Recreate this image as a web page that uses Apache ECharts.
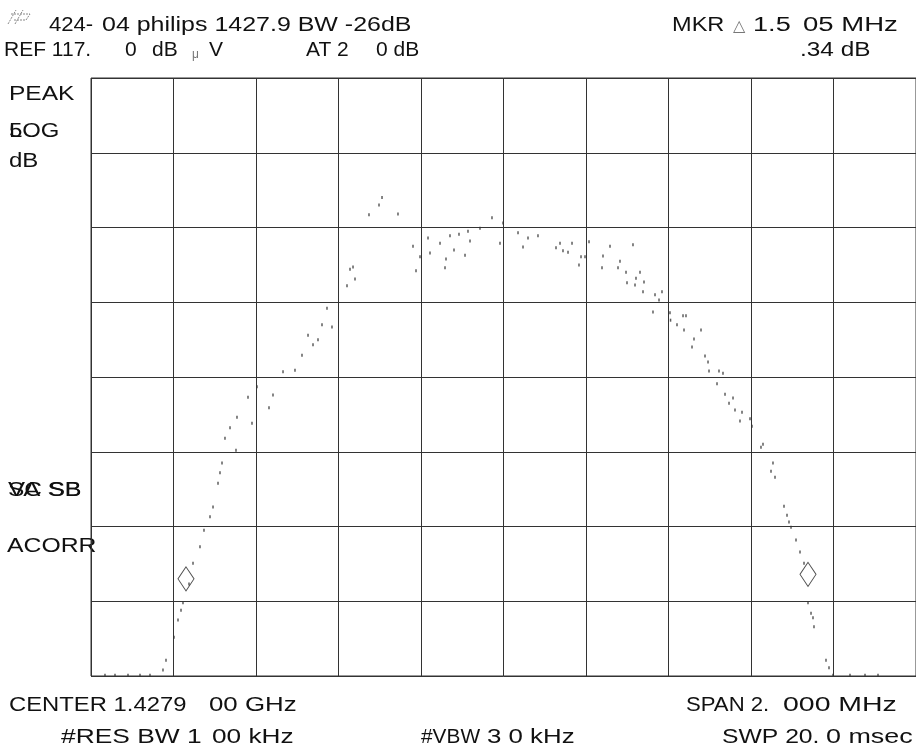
<!DOCTYPE html>
<html>
<head>
<meta charset="utf-8">
<script src="https://cdn.jsdelivr.net/npm/echarts@6/dist/echarts.min.js"></script>
<style>
html,body{margin:0;padding:0;background:#fff;}
#chart{width:916px;height:750px;}
</style>
</head>
<body>
<div id="chart"></div>
<script>
// ---- data ----
const REF_LEVEL_DB = 117;          // top graticule line
const DB_PER_DIV = 10;
const SPAN_KHZ = 2000;             // 2 MHz span, centre 1427.9 MHz
const freqOffsetKHz = [
  -966.1,-941.8,-910.3,-881.2,-857.0,-825.5,-818.2,-798.8,-789.1,-781.8,
  -777.0,-762.4,-752.7,-735.8,-726.1,-711.5,-704.2,-692.1,-687.3,-682.4,
  -675.2,-663.0,-648.5,-646.1,-619.4,-609.7,-597.6,-568.5,-558.8,-534.5,
  -505.5,-488.5,-473.9,-461.8,-449.7,-440.0,-427.9,-415.8,-379.4,-372.1,
  -364.8,-360.0,-326.1,-301.8,-294.5,-255.8,-219.4,-212.1,-202.4,-183.0,
  -178.2,-153.9,-141.8,-139.4,-129.7,-120.0,-107.9,-93.3,-86.1,-81.2,
  -57.0,-27.9,-8.5,-1.2,35.2,47.3,59.4,83.6,127.3,137.0,
  144.2,156.4,166.1,183.0,187.9,197.6,207.3,238.8,241.2,258.2,
  277.6,282.4,297.0,299.4,313.9,318.8,321.2,330.9,338.2,340.6,
  362.4,367.3,377.0,384.2,403.6,405.0,420.6,435.2,437.6,442.4,
  457.0,461.8,478.8,488.5,495.8,498.2,517.6,522.4,532.1,537.0,
  546.7,556.4,561.2,573.3,578.2,597.6,602.4,624.2,629.1,648.5,
  653.3,658.2,680.0,687.3,692.1,697.0,709.1,718.8,728.5,738.2,
  745.5,750.3,752.7,781.8,789.1,798.8,840.0,876.4,907.9
];
const levelDb = [
  37.1,37.1,37.1,37.1,37.1,37.8,39.1,42.2,44.5,45.8,
  46.8,49.3,52.1,54.3,56.5,58.3,59.6,62.8,64.2,65.5,
  68.8,70.2,67.2,71.6,74.3,70.8,75.7,72.9,74.6,77.7,
  77.9,79.9,82.6,81.3,82.0,84.0,86.2,83.7,89.2,91.4,
  91.7,90.1,98.7,100.0,101.0,98.8,94.5,91.2,93.1,95.6,
  93.6,94.9,91.6,92.8,95.9,94.0,96.1,93.3,96.5,95.2,
  96.9,98.3,94.9,97.6,96.3,94.4,95.6,95.9,94.3,94.9,
  93.9,93.7,94.9,92.0,93.1,93.1,95.1,91.6,93.2,94.5,
  91.6,92.5,91.0,89.6,94.7,89.3,90.2,91.0,88.4,89.7,
  85.7,88.0,87.3,88.4,85.6,84.6,84.0,85.2,83.3,85.2,
  81.0,82.1,83.3,79.8,79.0,77.8,76.1,77.8,77.5,74.7,
  73.5,74.2,72.6,71.1,72.3,71.4,70.4,67.6,68.0,64.4,
  65.5,63.6,59.7,58.5,57.6,56.9,55.2,53.6,52.1,46.8,
  45.4,44.8,43.6,39.1,38.1,37.1,37.1,37.1,37.1
];
const markerFreqKHz = [-769.7, 738.2];
const markerLevelDb = [50.0, 50.6];

// ---- text labels: [text, left x, right x (or null = natural width), centre y, font px] ----
const headerTexts = [
  ['424-', 50, 92, 25],
  ['04 philips 1427.9 BW -26dB', 103, 410, 25],
  ['REF 117.', 5, null, 50, 21],
  ['0', 126, null, 50, 21],
  ['dB', 153, null, 50, 21],
  ['V', 210, null, 50, 21],
  ['AT 2', 307, null, 50, 21],
  ['0 dB', 377, null, 50, 21],
  ['MKR', 673, 723, 25],
  ['1.5', 754, 789, 25],
  ['05 MHz', 804, 896, 25],
  ['.34 dB', 801, 869, 50]
];
const sideTexts = [
  ['PEAK', 10, 73, 94],
  ['LOG', 10, 58, 131],
  ['5', 10, 21, 131],
  ['dB', 10, 37, 161],
  ['VA SB', 9, 80, 490],
  ['SC SB', 9, 80, 490],
  ['ACORR', 8, 95, 546]
];
const footerTexts = [
  ['CENTER 1.4279', 10, 185, 705],
  ['00 GHz', 210, 295, 705],
  ['SPAN 2.', 687, 768, 705],
  ['000 MHz', 784, 895, 705],
  ['#RES BW 1', 62, 200, 737],
  ['00 kHz', 213, 292, 737],
  ['#VBW', 422, 479, 737],
  ['3 0 kHz', 488, 573, 737],
  ['SWP 20.', 723, 818, 737],
  ['0 msec', 827, 911, 737]
];

// ---- build ----
const FAMILY = '"Liberation Sans", Arial, sans-serif';
const mctx = document.createElement('canvas').getContext('2d');
function textEl(t) {
  const px = t[4] || 20;
  const font = px + 'px ' + FAMILY;
  mctx.font = font;
  const w = mctx.measureText(t[0]).width - 2;
  const sx = t[2] == null ? 1 : (t[2] - t[1]) / w;
  return {
    type: 'text', x: t[1] - 1, y: t[3], scaleX: sx, silent: true,
    style: { text: t[0], x: 0, y: 0, font: font, fill: '#111', textVerticalAlign: 'middle' }
  };
}
const graphics = [].concat(headerTexts, sideTexts, footerTexts).map(textEl);
graphics.push({ type: 'text', x: 192, y: 55, silent: true,
  style: { text: 'μ', x: 0, y: 0, font: '12px ' + FAMILY, fill: '#777', textVerticalAlign: 'middle' } });
graphics.push({ type: 'text', x: 733, y: 27, silent: true,
  style: { text: '△', x: 0, y: 0, font: '16px "DejaVu Sans", sans-serif', fill: '#777', textVerticalAlign: 'middle' } });
// HP logo (small sketch)
graphics.push({ type: 'group', x: 6, y: 6, silent: true, children: [
  { type: 'polyline', shape: { points: [[2,18],[10,4]] }, style: { stroke: '#888', lineWidth: 1, lineDash: [2,1] } },
  { type: 'polyline', shape: { points: [[9,18],[17,4]] }, style: { stroke: '#888', lineWidth: 1, lineDash: [2,1] } },
  { type: 'polyline', shape: { points: [[5,8],[24,8]] }, style: { stroke: '#888', lineWidth: 1, lineDash: [2,1] } },
  { type: 'polyline', shape: { points: [[8,14],[20,14],[24,8]] }, style: { stroke: '#888', lineWidth: 1, lineDash: [2,1] } }
]});

const tracePoints = freqOffsetKHz.map((f, i) => [f, levelDb[i] - REF_LEVEL_DB]);
const markerPoints = markerFreqKHz.map((f, i) => [f, markerLevelDb[i] - REF_LEVEL_DB]);

const chart = echarts.init(document.getElementById('chart'), null, { renderer: 'canvas' });
chart.setOption({
  animation: false,
  backgroundColor: '#fff',
  grid: { left: 91, right: 0, top: 78, bottom: 74, show: true, borderColor: '#333', borderWidth: 1 },
  xAxis: {
    type: 'value', min: -SPAN_KHZ / 2, max: SPAN_KHZ / 2, interval: SPAN_KHZ / 10,
    axisLabel: { show: false }, axisTick: { show: false }, axisLine: { show: false },
    splitLine: { show: true, lineStyle: { color: '#333', width: 1 } }
  },
  yAxis: {
    type: 'value', min: -8 * DB_PER_DIV, max: 0, interval: DB_PER_DIV,
    axisLabel: { show: false }, axisTick: { show: false }, axisLine: { show: false },
    splitLine: { show: true, lineStyle: { color: '#333', width: 1 } }
  },
  series: [
    { type: 'scatter', data: tracePoints, symbol: 'rect', symbolSize: [1.5, 3],
      itemStyle: { color: '#333' }, silent: true },
    { type: 'scatter', data: markerPoints, symbol: 'diamond', symbolSize: [16, 24],
      itemStyle: { color: 'rgba(0,0,0,0)', borderColor: '#222', borderWidth: 1 }, silent: true }
  ],
  graphic: graphics
});
</script>
</body>
</html>
